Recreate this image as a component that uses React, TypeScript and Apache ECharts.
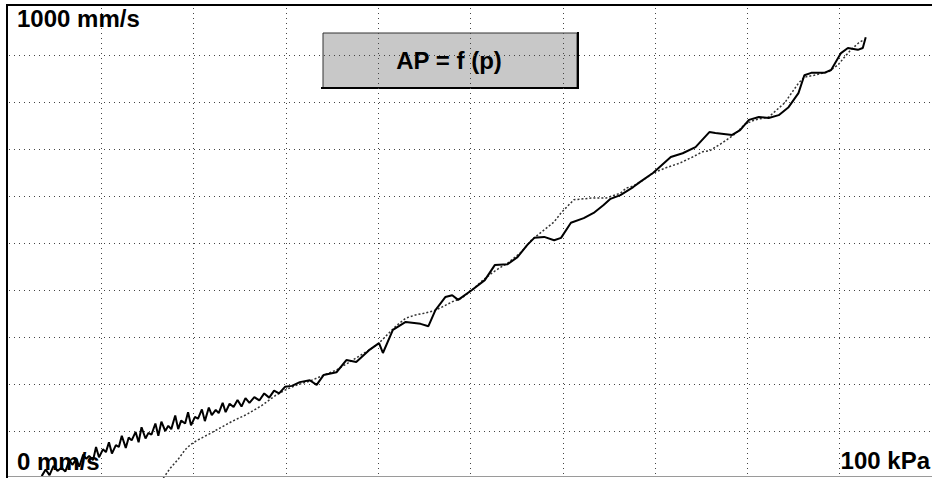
import React, { useEffect, useRef } from "react";
import * as echarts from "echarts";

// Measured curve: pressure (kPa) and flow velocity (mm/s)
const measuredPressure = [
  3.54, 3.97, 4.39, 4.82, 5.25, 5.68, 6.11, 6.54, 6.86, 7.29, 7.61, 8.04, 8.36, 8.68, 9.11, 9.43,
  9.75, 10.18, 10.5, 10.83, 11.15, 11.58, 11.9, 12.22, 12.65, 12.97, 13.29, 13.72, 14.04, 14.36,
  14.79, 15.11, 15.43, 15.86, 16.18, 16.51, 16.93, 17.26, 17.58, 18.01, 18.33, 18.65, 19.08, 19.4,
  19.72, 20.15, 20.47, 20.9, 21.22, 21.65, 21.97, 22.4, 22.72, 23.15, 23.47, 23.9, 24.33, 24.76,
  25.19, 25.62, 26.05, 26.58, 27.12, 27.65, 28.19, 28.72, 29.26, 29.9, 30.65, 31.51, 32.58, 33.33,
  34.08, 35.48, 36.55, 37.62, 39.01, 40.09, 40.51, 41.59, 42.98, 44.59, 45.44, 46.2, 47.27, 48.02,
  48.66, 50.16, 51.55, 52.63, 54.02, 55.09, 56.16, 56.91, 57.98, 59.06, 59.81, 60.88, 62.27, 63.34,
  64.42, 65.17, 66.24, 67.63, 68.38, 69.77, 71.7, 72.99, 74.38, 75.88, 76.53, 78.35, 79.21, 80.17,
  81.24, 82.31, 83.39, 84.46, 85.53, 86.17, 86.92, 88.32, 89.07, 90.14, 90.89, 91.96, 92.5, 92.82,
];
const measuredVelocity = [
  4, 18, 6, 26, 15, 22, 14, 38, 28, 40, 24, 50, 41, 47, 38, 66,
  44, 61, 55, 76, 52, 70, 66, 90, 64, 86, 80, 98, 76, 108,
  84, 96, 92, 116, 90, 120, 100, 111, 104, 133, 104, 122, 116, 140,
  112, 130, 126, 146, 121, 150, 134, 145, 138, 160, 140, 158, 151, 166,
  152, 170, 160, 172, 165, 180, 171, 186, 180, 194, 196, 204, 208, 198,
  219, 225, 251, 247, 272, 287, 266, 315, 332, 328, 323, 357, 385, 389,
  379, 400, 421, 453, 455, 470, 496, 511, 513, 506, 511, 543, 553, 564,
  581, 594, 602, 619, 630, 649, 683, 691, 704, 736, 734, 730, 740, 762,
  768, 766, 772, 789, 819, 857, 862, 862, 868, 904, 915, 911, 915, 938,
];

// Reference curve: pressure (kPa) and flow velocity (mm/s)
const referencePressure = [
  16.72, 17.47, 18.33, 19.08, 19.72, 20.47, 21.54, 22.83, 24.22, 25.83, 27.44, 28.83, 29.9, 31.19,
  32.58, 33.87, 35.48, 36.76, 38.16, 39.23, 40.09, 40.84, 41.91, 42.98, 44.05, 45.12, 46.2, 46.95,
  48.02, 49.09, 50.16, 51.23, 52.31, 53.16, 54.02, 55.52, 56.59, 57.66, 59.06, 59.81, 60.45, 61.2,
  62.27, 63.34, 64.74, 66.24, 66.88, 67.63, 68.7, 69.77, 71.17, 72.67, 74.06, 75.13, 75.88, 77.28,
  78.67, 79.74, 80.81, 82.31, 84.03, 85.53, 86.17, 87.24, 88.75, 89.82, 90.46, 91.21, 92.07, 92.6,
];
const referenceVelocity = [
  0, 21, 40, 60, 72, 81, 92, 106, 121, 136, 155, 175, 187, 198,
  206, 217, 230, 245, 262, 275, 287, 302, 323, 340, 347, 351, 357, 364,
  375, 383, 400, 419, 436, 447, 457, 481, 506, 523, 545, 564, 577, 592,
  594, 596, 596, 606, 617, 621, 634, 649, 660, 670, 683, 694, 696, 713,
  732, 753, 762, 768, 798, 840, 853, 857, 864, 879, 894, 911, 926, 932,
];

const yTopLabel = "1000 mm/s";
const yBottomLabel = "0 mm/s";
const xRightLabel = "100 kPa";
const boxTitle = "AP = f (p)";

const LABEL_FONT = '"Liberation Sans", Arial, sans-serif';

export default function App() {
  const ref = useRef<HTMLDivElement>(null);

  useEffect(() => {
    if (!ref.current) return;
    const chart = echarts.init(ref.current, undefined, { renderer: "svg" });

    const measured = measuredPressure.map((p, i) => [p, measuredVelocity[i]]);
    const reference = referencePressure.map((p, i) => [p, referenceVelocity[i]]);

    const gridDots = {
      show: true,
      showMinLine: false,
      showMaxLine: false,
      lineStyle: { color: "#444", width: 1, type: [1, 4] as number[] },
    };

    chart.setOption({
      animation: false,
      backgroundColor: "#ffffff",
      grid: { left: 9, top: 8, width: 933, height: 470, containLabel: false },
      xAxis: {
        type: "value",
        min: 0,
        max: 100,
        interval: 10,
        axisLine: { show: false },
        axisTick: { show: false },
        axisLabel: { show: false },
        splitLine: gridDots,
      },
      yAxis: {
        type: "value",
        min: 0,
        max: 1000,
        interval: 100,
        axisLine: { show: false },
        axisTick: { show: false },
        axisLabel: { show: false },
        splitLine: gridDots,
      },
      series: [
        {
          type: "line",
          data: reference,
          showSymbol: false,
          z: 3,
          lineStyle: { color: "#333", width: 1.5, type: [2, 2] as number[] },
        },
        {
          type: "line",
          data: measured,
          showSymbol: false,
          z: 4,
          lineStyle: { color: "#000", width: 2 },
        },
      ],
      graphic: [
        // plot frame
        { type: "line", z: 20, shape: { x1: 7, y1: 4, x2: 7, y2: 478 }, style: { stroke: "#000", lineWidth: 2 } },
        { type: "line", z: 20, shape: { x1: 6, y1: 5, x2: 932, y2: 5 }, style: { stroke: "#000", lineWidth: 2 } },
        { type: "line", z: 20, shape: { x1: 8, y1: 476.5, x2: 932, y2: 476.5 }, style: { stroke: "#9a9a9a", lineWidth: 1 } },
        // title box
        {
          type: "group",
          z: 20,
          children: [
            { type: "rect", shape: { x: 323, y: 33, width: 254, height: 55 }, style: { fill: "#c8c8c8", stroke: "#333", lineWidth: 1 } },
            { type: "line", shape: { x1: 321, y1: 88, x2: 579, y2: 88 }, style: { stroke: "#000", lineWidth: 2 } },
            { type: "line", shape: { x1: 578, y1: 32, x2: 578, y2: 89 }, style: { stroke: "#000", lineWidth: 2 } },
            {
              type: "text",
              x: 449,
              y: 60,
              style: {
                text: boxTitle,
                fill: "#000",
                font: `bold 24px ${LABEL_FONT}`,
                align: "center",
                verticalAlign: "middle",
              },
            },
          ],
        },
        {
          type: "text",
          z: 20,
          x: 17,
          y: 18.5,
          style: { text: yTopLabel, fill: "#000", font: `bold 24px ${LABEL_FONT}`, align: "left", verticalAlign: "middle" },
        },
        {
          type: "text",
          z: 1,
          x: 17,
          y: 461,
          style: { text: yBottomLabel, fill: "#000", font: `bold 24px ${LABEL_FONT}`, align: "left", verticalAlign: "middle" },
        },
        {
          type: "text",
          z: 20,
          x: 930,
          y: 460.5,
          style: { text: xRightLabel, fill: "#000", font: `bold 24px ${LABEL_FONT}`, align: "right", verticalAlign: "middle" },
        },
      ],
    });

    return () => chart.dispose();
  }, []);

  return (
    <div
      ref={ref}
      style={{ position: "fixed", left: 0, top: 0, width: 932, height: 478, background: "#fff" }}
    />
  );
}
